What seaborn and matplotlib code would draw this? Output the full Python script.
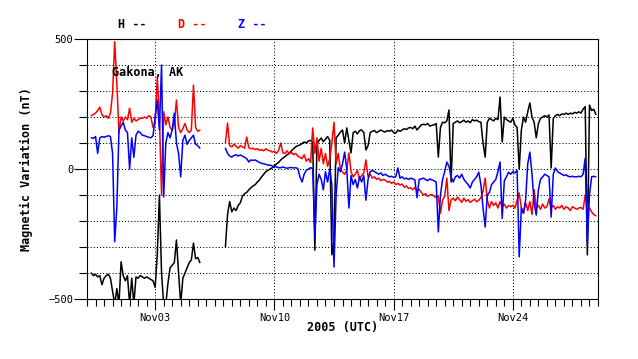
import numpy as np
import pandas as pd
import matplotlib
matplotlib.use("Agg")
import matplotlib.pyplot as plt
import matplotlib.dates as mdates
from matplotlib.ticker import MultipleLocator, FixedLocator
import seaborn as sns

# 3-hourly samples, two recording segments
step = "3h"
seg1_start = "2005-10-30 06:00"
seg2_start = "2005-11-07 03:00"

h1 = [-400, -410, -405, -415, -410, -445, -420, -410, -405, -420,
      -470, -520, -460, -520, -357, -410, -430, -410, -520, -420,
      -520, -415, -420, -410, -415, -420, -415, -420, -425, -430,
      -455, -330, -100, -400, -520, -520, -440, -380, -370, -360,
      -273, -400, -520, -420, -400, -380, -360, -350, -285, -345,
      -340, -360]
d1 = [205, 210, 215, 225, 238, 210, 200, 205, 195, 215,
      290, 490, 330, 140, 200, 185, 200, 190, 234, 180,
      195, 185, 190, 195, 195, 200, 195, 205, 200, 160,
      175, 354, 200, -100, 220, 170, 200, 160, 150, 175,
      265, 160, 140, 155, 175, 150, 140, 150, 323, 160,
      145, 150]
z1 = [120, 118, 125, 60, 120, 125, 122, 125, 128, 125,
      60, -280, -150, 150, 165, 180, 150, 140, 0, 120,
      45, 130, 145, 140, 130, 128, 125, 122, 120, 128,
      200, 265, 150, 400, -108, 100, 140, 120, 150, 215,
      100, 60, -30, 110, 130, 95, 110, 120, 130, 95,
      90, 80]

h2 = [-300, -175, -125, -165, -150, -160, -140, -130, -105, -95,
      -90, -80, -72, -65, -60, -50, -42, -30, -20, -10,
      -5, 0, 5, 10, 20, 25, 35, 42, 48, 55,
      60, 70, 78, 85, 90, 92, 98, 104, 100, 108,
      110, 104, -312, 95, 110, 119, 105, 115, 125, 110,
      -330, -280, 120, 130, 142, 150, 100, 158, 110, 62,
      140, 145, 135, 148, 150, 140, 73, 90, 140, 145,
      148, 140, 145, 150, 145, 142, 148, 145, 150, 140,
      138, 150, 145, 150, 155, 152, 158, 160, 155, 165,
      150, 160, 170, 172, 170, 175, 165, 168, 170, 175,
      46, 160, 180, 178, 185, 227, -50, 175, 180, 185,
      178, 182, 188, 180, 185, 178, 190, 185, 188, 182,
      180, 100, 46, 180, 195, 190, 185, 195, 190, 277,
      104, 200, 190, 185, 180, 195, 170, 160, 0, 150,
      200, 180, 220, 254, 200, 180, 120, 175, 195, 200,
      205, 200, 208, 4, 195, 205, 210, 205, 212, 210,
      215, 210, 215, 212, 218, 215, 220, 215, 230, 240,
      -330, 246, 225, 230, 210]
d2 = [100, 177, 90, 85, 95, 88, 80, 90, 85, 80,
      123, 82, 78, 80, 75, 78, 72, 75, 70, 78,
      72, 70, 65, 68, 60, 72, 100, 62, 60, 70,
      58, 65, 55, 60, 50, 45, 40, 55, 30, 40,
      25, 158, 60, 120, 30, 80, 20, 60, 10, 40,
      100, 180, 20, 60, 0, -12, -20, -5, 62, -10,
      -30, -20, -5, -40, -25, -15, 35, -30, -20, -35,
      -30, -40, -35, -45, -40, -42, -50, -48, -55, -50,
      -60, -55, -62, -58, -70, -65, -75, -72, -80, -70,
      -85, -78, -90, -100, -95, -105, -100, -98, -105, -110,
      -105, -170, -120, -105, -35, -160, -118, -112, -122, -108,
      -118, -128, -112, -124, -118, -128, -122, -116, -126, -120,
      -110, -85, -35, -118, -150, -125, -140, -130, -150, -125,
      -145, -135, -150, -140, -145, -140, -150, -120, -92, -150,
      -170, -130, -160, -125, -175, -80, -150, -140, -155, -135,
      -150, -145, -115, -150, -140, -155, -145, -150, -140, -155,
      -145, -150, -160, -145, -150, -155, -150, -148, -155, -100,
      -145, -150, -165, -175, -180]
z2 = [80, 60, 50, 46, 52, 55, 50, 54, 50, 45,
      40, 27, 35, 33, 35, 30, 25, 22, 20, 18,
      15, 15, 12, 10, 8, 5, 5, 8, 5, 3,
      5, 6, 4, 5, 2, -30, -50, -20, -5, 0,
      5, 2, -260, -60, -20, -40, -80, -10, -50, 0,
      -60, -377, -100, 5, -10, 20, 65, 0, -150, -25,
      -60, -40, -73, -30, -50, -25, -120, -40, -10, -5,
      -10, -15, -20, -15, -25, -20, -25, -30, -28, -32,
      -30, 4, -35, -30, -38, -35, -40, -35, -38, -42,
      -110, -40, -38, -35, -40, -45, -38, -42, -45, -50,
      -242, -100, -40, -10, 27, 10, -30, -50, -30, -25,
      -35, -20, -40, -50, -60, -73, -50, -40, -30, -12,
      -60, -150, -223, -100, -90, -60, -50, -40, -10, 27,
      -190, -45, -30, -12, -20, -10, -15, -5, -338, -150,
      -170, -120, 20, 65, -20, -130, -177, -80, -40, -30,
      -20, -25, -30, -185, -20, 4, -10, -15, -20, -25,
      -22, -28, -30, -28, -30, -30, -28, -30, -20, 42,
      -292, -100, -30, -28, -30]


def frame(vals, start, comp, seg):
    t = pd.date_range(start, periods=len(vals), freq=step)
    return pd.DataFrame({"time": t, "nT": vals, "comp": comp, "seg": seg})


df = pd.concat([
    frame(h1, seg1_start, "H", 1), frame(h2, seg2_start, "H", 2),
    frame(d1, seg1_start, "D", 1), frame(d2, seg2_start, "D", 2),
    frame(z1, seg1_start, "Z", 1), frame(z2, seg2_start, "Z", 2),
], ignore_index=True)

sns.set_style("ticks", {"axes.edgecolor": "black", "xtick.color": "black",
                        "ytick.color": "black", "text.color": "black",
                        "axes.labelcolor": "black"})
plt.rcParams["font.family"] = ["DejaVu Sans Mono"]

fig = plt.figure(figsize=(6.38, 3.59), dpi=100)
ax = fig.add_axes([0.1364, 0.1671, 0.8009, 0.7242])

sns.lineplot(data=df, x="time", y="nT", hue="comp", units="seg",
             estimator=None, sort=False, hue_order=["H", "D", "Z"],
             palette={"H": "black", "D": "red", "Z": "blue"},
             linewidth=1.1, legend=False, ax=ax)

ax.set_xlim(pd.Timestamp("2005-10-30"), pd.Timestamp("2005-11-29"))
ax.set_ylim(-500, 500)

# ticks: labelled only at -500/0/500, minor every 100 nT and every 12 h
ax.yaxis.set_major_locator(FixedLocator([-500, 0, 500]))
ax.yaxis.set_minor_locator(MultipleLocator(100))
ax.xaxis.set_major_locator(mdates.DayLocator(bymonthday=[3, 10, 17, 24]))
ax.xaxis.set_major_formatter(mdates.DateFormatter("%b%d"))
ax.xaxis.set_minor_locator(mdates.HourLocator(byhour=[0, 12]))
ax.tick_params(axis="y", which="major", length=9.4, width=0.8, pad=0.5, labelsize=7.5)
ax.tick_params(axis="y", which="minor", length=5.8, width=0.8)
ax.tick_params(axis="x", which="major", length=8, width=0.8, pad=2, labelsize=7.5)
ax.tick_params(axis="x", which="minor", length=5, width=0.8)
for s in ax.spines.values():
    s.set_linewidth(0.8)
    s.set_color("black")

ax.yaxis.grid(True, which="both", color="black", linestyle=(0, (1, 2)), linewidth=0.75)
ax.xaxis.grid(True, which="major", color="black", linestyle=(0, (1, 2)), linewidth=0.75)

ax.set_xlabel("2005 (UTC)", fontsize=8.5, fontweight="bold")
ax.set_ylabel("Magnetic Variation (nT)", fontsize=8.5, fontweight="bold")
ax.xaxis.set_label_coords(0.5, -0.085)
ax.yaxis.set_label_coords(-0.105, 0.5)

ax.text(0.049, 0.873, "Gakona, AK", transform=ax.transAxes, fontsize=8.5,
        fontweight="bold", va="center", ha="left")

# legend drawn as coloured text above the plot
for lbl, col, xp in [("H --", "black", 118), ("D --", "red", 178), ("Z --", "blue", 238)]:
    fig.text(xp / 638, 1 - 24 / 359, lbl, color=col, fontsize=8.5,
             fontweight="bold", va="center", ha="left")

fig.savefig("out.png", dpi=100)
